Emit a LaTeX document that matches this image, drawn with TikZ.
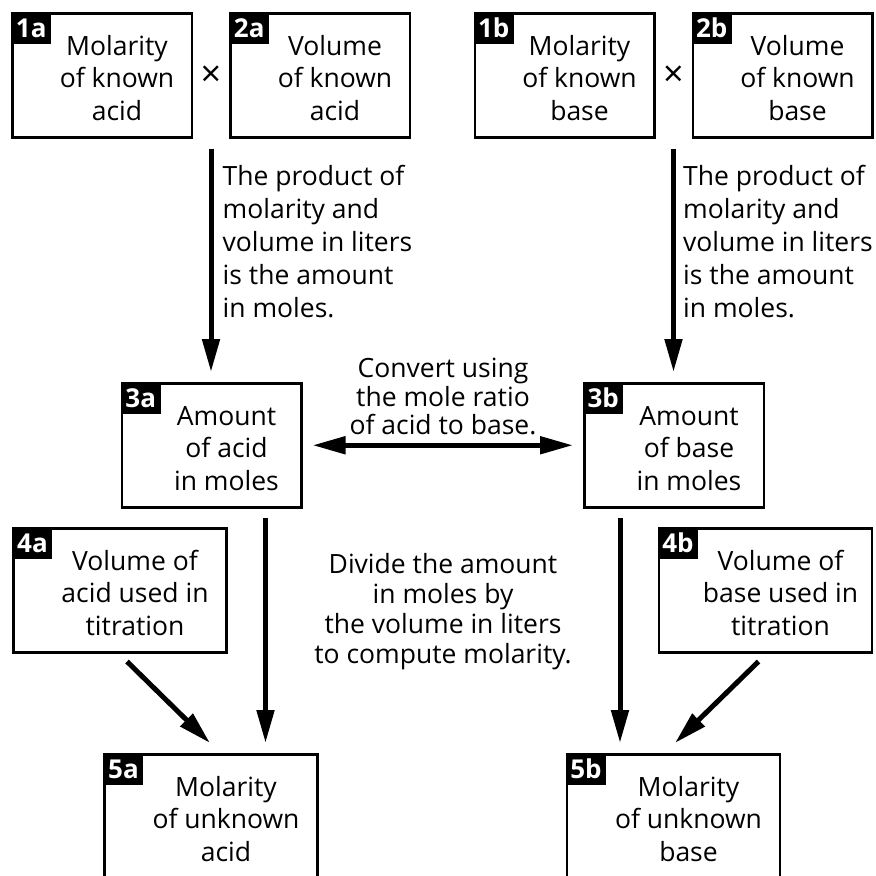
\documentclass[tikz,border=0pt]{standalone}
\usepackage{fontspec}
\setmainfont{Open Sans}
\usetikzlibrary{arrows.meta}

\tikzset{
  box/.style={draw, line width=2.5pt, minimum width=179.5pt, minimum height=124pt, inner sep=0pt},
  widebox/.style={box, minimum width=213pt},
  tag/.style={fill=black, text=white, font=\fontsize{26}{26}\selectfont\bfseries, anchor=north west,
    minimum width=40pt, minimum height=32pt, inner sep=0pt},
  boxtext/.style={align=center, anchor=north, inner sep=0pt, font=\fontsize{26.5}{32.5}\selectfont},
  note/.style={inner sep=0pt},
  times/.style={font=\fontsize{36}{36}\selectfont},
  arr/.style={line width=5pt, -{Triangle[length=33pt,width=17pt]}},
  dblarr/.style={line width=5pt, {Triangle[length=33pt,width=17pt]}-{Triangle[length=33pt,width=17pt]}},
}

\begin{document}
\begin{tikzpicture}[x=1pt, y=-1pt]
    \useasboundingbox (0,0) rectangle (876,876);
    \clip (0,0) rectangle (876,876);

    % acid side, known values
    \node[box] (a1) at (102,75.25) {};
    \node[tag] at (a1.north west) {1a};
    \node[boxtext] at ([xshift=15pt,yshift=-20.25pt]a1.north) {\strut Molarity\\of known\\acid};
    \node[times] (xa) at (211,76) {×};
    \node[box] (a2) at (320,75.25) {};
    \node[tag] at (a2.north west) {2a};
    \node[boxtext] at ([xshift=15pt,yshift=-20.25pt]a2.north) {\strut Volume\\of known\\acid};

    % base side, known values
    \node[box] (b1) at (564.5,75.25) {};
    \node[tag] at (b1.north west) {1b};
    \node[boxtext] at ([xshift=15pt,yshift=-20.25pt]b1.north) {\strut Molarity\\of known\\base};
    \node[times] (xb) at (673.5,76) {×};
    \node[box] (b2) at (782.5,75.25) {};
    \node[tag] at (b2.north west) {2b};
    \node[boxtext] at ([xshift=15pt,yshift=-20.25pt]b2.north) {\strut Volume\\of known\\base};

    % amounts in moles
    \node[box] (a3) at (211.5,445.25) {};
    \node[tag] at (a3.north west) {3a};
    \node[boxtext] at ([xshift=15pt,yshift=-20.25pt]a3.north) {\strut Amount\\of acid\\in moles};
    \node[box] (b3) at (674,445.25) {};
    \node[tag] at (b3.north west) {3b};
    \node[boxtext] at ([xshift=15pt,yshift=-20.25pt]b3.north) {\strut Amount\\of base\\in moles};

    % titration volumes
    \node[widebox] (a4) at (120,590.25) {};
    \node[tag] at (a4.north west) {4a};
    \node[boxtext] at ([xshift=15pt,yshift=-20.25pt]a4.north) {\strut Volume of\\acid used in\\titration};
    \node[widebox] (b4) at (765.5,590.25) {};
    \node[tag] at (b4.north west) {4b};
    \node[boxtext] at ([xshift=15pt,yshift=-20.25pt]b4.north) {\strut Volume of\\base used in\\titration};

    % unknown molarities
    \node[widebox] (a5) at (211,816.25) {};
    \node[tag] at (a5.north west) {5a};
    \node[boxtext] at ([xshift=15pt,yshift=-20.25pt]a5.north) {\strut Molarity\\of unknown\\acid};
    \node[widebox] (b5) at (673.5,816.25) {};
    \node[tag] at (b5.north west) {5b};
    \node[boxtext] at ([xshift=15pt,yshift=-20.25pt]b5.north) {\strut Molarity\\of unknown\\base};

    % notes
    \node[note, anchor=north west, align=left, font=\fontsize{26.5}{33}\selectfont] (proda) at (222.5,161.9)
        {\strut The product of\\molarity and\\volume in liters\\is the amount\\in moles.};
    \node[note, anchor=north west, align=left, font=\fontsize{26.5}{33}\selectfont] (prodb) at (683,161.9)
        {\strut The product of\\molarity and\\volume in liters\\is the amount\\in moles.};
    \node[note, anchor=north, align=center, font=\fontsize{26.5}{28}\selectfont] (convert) at (443,357.4)
        {\strut Convert using\\the mole ratio\\of acid to base.};
    \node[note, anchor=north, align=center, font=\fontsize{26.5}{30}\selectfont] (divide) at (443,552.3)
        {\strut Divide the amount\\in moles by\\the volume in liters\\to compute molarity.};

    % arrows
    \draw[arr, shorten <=10pt, shorten >=10pt] (xa |- a1.south) -- (xa |- a3.north);
    \draw[arr, shorten <=10pt, shorten >=10pt] (xb |- b1.south) -- (xb |- b3.north);
    \draw[dblarr, shorten <=10pt, shorten >=10pt] (a3.east) -- (b3.west);
    \draw[arr, shorten <=9pt, shorten >=10pt] ([xshift=54pt]a3.south) -- ([xshift=54pt]a3.south |- a5.north);
    \draw[arr, shorten <=9pt, shorten >=10pt] ([xshift=-54pt]b3.south) -- ([xshift=-54pt]b3.south |- b5.north);
    \draw[arr] ([shift={(7,8)}]a4.south) -- ([shift={(-1,-10)}]a5.north);
    \draw[arr] ([shift={(-7,8)}]b4.south) -- ([shift={(1.5,-10)}]b5.north);
\end{tikzpicture}
\end{document}
